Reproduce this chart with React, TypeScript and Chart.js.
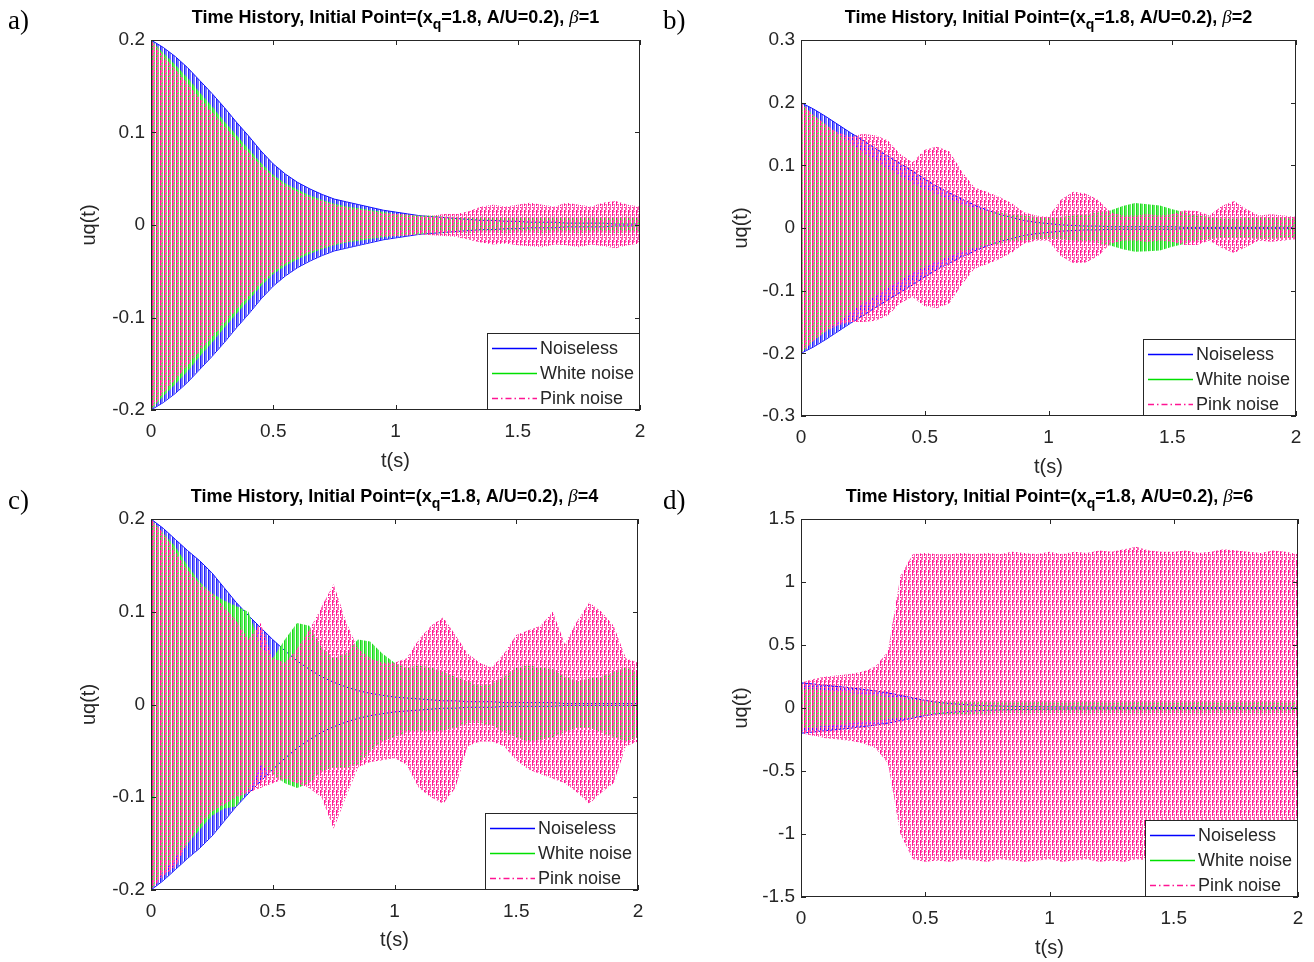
import React, { useEffect, useRef } from 'react';
import { Chart, registerables } from 'chart.js';

Chart.register(...registerables);

const W = 1314;
const H = 962;

// ---------- data (envelopes of the oscillating responses) ----------
const T = [0, 0.05, 0.1, 0.15, 0.2, 0.25, 0.3, 0.35, 0.4, 0.45, 0.5, 0.55, 0.6, 0.65, 0.7, 0.75, 0.8, 0.85, 0.9, 0.95, 1, 1.05, 1.1, 1.15, 1.2, 1.25, 1.3, 1.35, 1.4, 1.45, 1.5, 1.55, 1.6, 1.65, 1.7, 1.75, 1.8, 1.85, 1.9, 1.95, 2];

// a) beta = 1
const A_BLUE_HI = [0.200,0.192,0.182,0.170,0.156,0.142,0.127,0.111,0.096,0.080,0.066,0.055,0.046,0.039,0.033,0.028,0.025,0.022,0.019,0.016,0.014,0.012,0.010,0.009,0.008,0.007,0.006,0.005,0.005,0.004,0.004,0.003,0.003,0.003,0.002,0.002,0.002,0.002,0.001,0.001,0.001];
const A_BLUE_LO = [-0.200,-0.192,-0.182,-0.170,-0.156,-0.142,-0.127,-0.111,-0.096,-0.080,-0.066,-0.055,-0.046,-0.039,-0.033,-0.028,-0.025,-0.022,-0.019,-0.016,-0.014,-0.012,-0.010,-0.009,-0.008,-0.007,-0.006,-0.005,-0.005,-0.004,-0.004,-0.003,-0.003,-0.003,-0.002,-0.002,-0.002,-0.002,-0.001,-0.001,-0.001];
const A_GREEN_HI = [0.200,0.186,0.173,0.159,0.143,0.128,0.112,0.097,0.082,0.067,0.054,0.045,0.038,0.032,0.027,0.023,0.020,0.018,0.016,0.014,0.012,0.011,0.010,0.010,0.009,0.009,0.008,0.009,0.008,0.008,0.009,0.008,0.008,0.009,0.008,0.008,0.009,0.008,0.008,0.009,0.008];
const A_GREEN_LO = [-0.200,-0.185,-0.172,-0.158,-0.142,-0.127,-0.111,-0.096,-0.081,-0.066,-0.053,-0.044,-0.037,-0.031,-0.026,-0.022,-0.019,-0.017,-0.015,-0.013,-0.012,-0.011,-0.010,-0.009,-0.009,-0.008,-0.009,-0.008,-0.008,-0.009,-0.008,-0.008,-0.009,-0.008,-0.008,-0.009,-0.008,-0.008,-0.009,-0.008,-0.008];
const A_PINK_HI = [0.200,0.183,0.168,0.153,0.137,0.122,0.107,0.092,0.078,0.064,0.052,0.043,0.036,0.030,0.026,0.022,0.019,0.017,0.015,0.013,0.012,0.011,0.010,0.010,0.012,0.012,0.015,0.020,0.022,0.020,0.022,0.024,0.022,0.020,0.024,0.022,0.020,0.024,0.026,0.022,0.020];
const A_PINK_LO = [-0.200,-0.182,-0.167,-0.152,-0.136,-0.121,-0.106,-0.091,-0.077,-0.063,-0.051,-0.042,-0.035,-0.029,-0.025,-0.021,-0.018,-0.016,-0.014,-0.013,-0.012,-0.011,-0.010,-0.011,-0.012,-0.013,-0.016,-0.019,-0.021,-0.020,-0.022,-0.023,-0.024,-0.021,-0.022,-0.024,-0.021,-0.023,-0.025,-0.022,-0.020];

// b) beta = 2
const B_BLUE_HI = [0.200,0.190,0.178,0.165,0.152,0.140,0.127,0.115,0.103,0.091,0.078,0.066,0.056,0.046,0.037,0.029,0.022,0.017,0.012,0.009,0.007,0.005,0.004,0.003,0.003,0.002,0.002,0.002,0.002,0.002,0.002,0.001,0.001,0.001,0.001,0.001,0.001,0.001,0.001,0.001,0.001];
const B_BLUE_LO = [-0.200,-0.190,-0.178,-0.165,-0.152,-0.140,-0.127,-0.115,-0.103,-0.091,-0.078,-0.066,-0.056,-0.046,-0.037,-0.029,-0.022,-0.017,-0.012,-0.009,-0.007,-0.005,-0.004,-0.003,-0.003,-0.002,-0.002,-0.002,-0.002,-0.002,-0.002,-0.001,-0.001,-0.001,-0.001,-0.001,-0.001,-0.001,-0.001,-0.001,-0.001];
const B_GREEN_HI = [0.200,0.180,0.165,0.150,0.135,0.120,0.108,0.095,0.083,0.072,0.062,0.053,0.045,0.038,0.032,0.028,0.025,0.022,0.020,0.018,0.017,0.018,0.020,0.022,0.025,0.028,0.035,0.040,0.038,0.036,0.030,0.025,0.020,0.018,0.015,0.015,0.016,0.018,0.017,0.016,0.015];
const B_GREEN_LO = [-0.200,-0.180,-0.165,-0.150,-0.135,-0.120,-0.108,-0.095,-0.083,-0.072,-0.062,-0.053,-0.045,-0.038,-0.032,-0.028,-0.025,-0.022,-0.020,-0.018,-0.017,-0.018,-0.020,-0.022,-0.024,-0.028,-0.034,-0.038,-0.037,-0.036,-0.030,-0.025,-0.020,-0.018,-0.015,-0.015,-0.016,-0.017,-0.017,-0.016,-0.015];
const B_PINK_HI = [0.200,0.180,0.165,0.152,0.146,0.150,0.148,0.140,0.118,0.105,0.125,0.130,0.122,0.090,0.065,0.058,0.050,0.040,0.025,0.020,0.018,0.045,0.058,0.055,0.045,0.025,0.020,0.020,0.022,0.020,0.022,0.028,0.027,0.020,0.035,0.043,0.030,0.020,0.022,0.020,0.018];
const B_PINK_LO = [-0.200,-0.180,-0.165,-0.155,-0.150,-0.150,-0.148,-0.140,-0.120,-0.110,-0.125,-0.128,-0.120,-0.090,-0.065,-0.058,-0.050,-0.040,-0.025,-0.020,-0.020,-0.045,-0.056,-0.055,-0.045,-0.025,-0.020,-0.020,-0.022,-0.020,-0.022,-0.027,-0.027,-0.020,-0.032,-0.040,-0.030,-0.020,-0.022,-0.020,-0.018];

// c) beta = 4
const C_BLUE_HI = [0.200,0.190,0.178,0.166,0.155,0.142,0.126,0.110,0.096,0.083,0.070,0.058,0.047,0.038,0.030,0.024,0.019,0.015,0.012,0.010,0.008,0.007,0.006,0.005,0.004,0.004,0.003,0.003,0.003,0.002,0.002,0.002,0.002,0.002,0.001,0.001,0.001,0.001,0.001,0.001,0.001];
const C_BLUE_LO = [-0.200,-0.190,-0.178,-0.166,-0.155,-0.142,-0.126,-0.110,-0.096,-0.083,-0.070,-0.058,-0.047,-0.038,-0.030,-0.024,-0.019,-0.015,-0.012,-0.010,-0.008,-0.007,-0.006,-0.005,-0.004,-0.004,-0.003,-0.003,-0.003,-0.002,-0.002,-0.002,-0.002,-0.002,-0.001,-0.001,-0.001,-0.001,-0.001,-0.001,-0.001];
const C_GREEN_HI = [0.200,0.185,0.170,0.150,0.132,0.120,0.112,0.106,0.100,0.062,0.050,0.070,0.088,0.085,0.062,0.050,0.055,0.070,0.068,0.055,0.045,0.040,0.042,0.040,0.035,0.030,0.025,0.020,0.022,0.030,0.040,0.042,0.040,0.038,0.030,0.025,0.028,0.030,0.035,0.040,0.035];
const C_GREEN_LO = [-0.200,-0.180,-0.165,-0.150,-0.135,-0.120,-0.112,-0.110,-0.092,-0.065,-0.075,-0.085,-0.090,-0.085,-0.072,-0.068,-0.068,-0.065,-0.050,-0.040,-0.035,-0.030,-0.028,-0.030,-0.028,-0.025,-0.020,-0.020,-0.022,-0.030,-0.035,-0.040,-0.038,-0.035,-0.030,-0.025,-0.025,-0.030,-0.035,-0.040,-0.035];
const C_PINK_HI = [0.200,0.185,0.165,0.145,0.130,0.120,0.105,0.090,0.070,0.088,0.050,0.045,0.060,0.080,0.105,0.130,0.090,0.060,0.050,0.045,0.045,0.050,0.070,0.085,0.094,0.075,0.055,0.045,0.040,0.055,0.075,0.080,0.085,0.100,0.065,0.090,0.110,0.100,0.085,0.050,0.045];
const C_PINK_LO = [-0.200,-0.185,-0.175,-0.150,-0.130,-0.115,-0.108,-0.100,-0.095,-0.090,-0.085,-0.080,-0.085,-0.090,-0.100,-0.134,-0.100,-0.068,-0.062,-0.060,-0.058,-0.065,-0.090,-0.100,-0.107,-0.090,-0.045,-0.040,-0.040,-0.045,-0.060,-0.070,-0.075,-0.080,-0.085,-0.095,-0.107,-0.095,-0.085,-0.045,-0.040];

// d) beta = 6
const D_BLUE_HI = [0.200,0.190,0.180,0.170,0.160,0.148,0.135,0.120,0.100,0.080,0.060,0.045,0.035,0.028,0.022,0.018,0.015,0.013,0.011,0.010,0.009,0.008,0.007,0.007,0.006,0.006,0.005,0.005,0.005,0.004,0.004,0.004,0.004,0.003,0.003,0.003,0.003,0.003,0.003,0.003,0.003];
const D_BLUE_LO = [-0.200,-0.190,-0.180,-0.170,-0.160,-0.148,-0.135,-0.120,-0.100,-0.080,-0.060,-0.045,-0.035,-0.028,-0.022,-0.018,-0.015,-0.013,-0.011,-0.010,-0.009,-0.008,-0.007,-0.007,-0.006,-0.006,-0.005,-0.005,-0.005,-0.004,-0.004,-0.004,-0.004,-0.003,-0.003,-0.003,-0.003,-0.003,-0.003,-0.003,-0.003];
const D_GREEN_HI = [0.150,0.150,0.140,0.130,0.120,0.110,0.100,0.090,0.080,0.070,0.060,0.055,0.050,0.050,0.048,0.048,0.045,0.046,0.045,0.048,0.045,0.044,0.046,0.048,0.045,0.044,0.046,0.048,0.045,0.046,0.044,0.045,0.048,0.046,0.044,0.045,0.046,0.048,0.045,0.044,0.045];
const D_GREEN_LO = [-0.150,-0.150,-0.140,-0.130,-0.120,-0.110,-0.100,-0.090,-0.080,-0.070,-0.060,-0.055,-0.050,-0.048,-0.045,-0.044,-0.040,-0.040,-0.041,-0.040,-0.040,-0.039,-0.040,-0.041,-0.040,-0.039,-0.040,-0.041,-0.040,-0.040,-0.039,-0.040,-0.041,-0.040,-0.039,-0.040,-0.040,-0.041,-0.040,-0.039,-0.040];
const D_PINK_HI = [0.200,0.230,0.250,0.260,0.270,0.290,0.330,0.450,1.050,1.220,1.230,1.220,1.220,1.230,1.220,1.230,1.220,1.240,1.230,1.220,1.240,1.220,1.240,1.230,1.250,1.240,1.260,1.280,1.250,1.240,1.240,1.250,1.230,1.240,1.260,1.250,1.240,1.230,1.250,1.240,1.220];
const D_PINK_LO = [-0.200,-0.220,-0.240,-0.250,-0.260,-0.280,-0.320,-0.440,-1.000,-1.200,-1.220,-1.210,-1.220,-1.200,-1.210,-1.220,-1.200,-1.210,-1.220,-1.210,-1.200,-1.220,-1.210,-1.200,-1.220,-1.210,-1.220,-1.200,-1.210,-1.220,-1.210,-1.200,-1.220,-1.210,-1.220,-1.200,-1.210,-1.220,-1.210,-1.200,-1.210];

// ticks / labels
const X_TICKS = ['0', '0.5', '1', '1.5', '2'];
const Y_TICKS_AC = ['-0.2', '-0.1', '0', '0.1', '0.2'];
const Y_TICKS_B = ['-0.3', '-0.2', '-0.1', '0', '0.1', '0.2', '0.3'];
const Y_TICKS_D = ['-1.5', '-1', '-0.5', '0', '0.5', '1', '1.5'];
const SERIES_NAMES = ['Noiseless', 'White noise', 'Pink noise'];
const BETAS = ['1', '2', '4', '6'];
const PANEL_LABELS = ['a)', 'b)', 'c)', 'd)'];
const X_TITLE = 't(s)';
const Y_TITLE = 'uq(t)';
const TITLE_A = 'Time History, Initial Point=(x';
const TITLE_SUB = 'q';
const TITLE_B = '=1.8, A/U=0.2), ';
const TITLE_BETA = 'β';

// ---------- style ----------
const FONT = "'Liberation Sans', Arial, Helvetica, sans-serif";
const SERIF = "'Liberation Serif', 'Times New Roman', serif";
const TXT = '#262626';
const TICK_SIZE = 19;
const AXIS_TITLE_SIZE = 20;
const TITLE_SIZE = 18;
const LEGEND_SIZE = 18;
const TL = 5;

const PANELS = [
  { label: PANEL_LABELS[0], beta: BETAS[0], area: { l: 151, t: 40, r: 640, b: 410 }, yMin: -0.2, yMax: 0.2, yStep: 0.1, yTicks: Y_TICKS_AC, yTitleX: 89, xTitleY: 461, titleBase: 23, lab: { x: 8, y: 29 },
    blue: [A_BLUE_HI, A_BLUE_LO], green: [A_GREEN_HI, A_GREEN_LO], pink: [A_PINK_HI, A_PINK_LO] },
  { label: PANEL_LABELS[1], beta: BETAS[1], area: { l: 801, t: 40, r: 1296, b: 416 }, yMin: -0.3, yMax: 0.3, yStep: 0.1, yTicks: Y_TICKS_B, yTitleX: 741, xTitleY: 467, titleBase: 23, lab: { x: 663, y: 29 },
    blue: [B_BLUE_HI, B_BLUE_LO], green: [B_GREEN_HI, B_GREEN_LO], pink: [B_PINK_HI, B_PINK_LO] },
  { label: PANEL_LABELS[2], beta: BETAS[2], area: { l: 151, t: 519, r: 638, b: 890 }, yMin: -0.2, yMax: 0.2, yStep: 0.1, yTicks: Y_TICKS_AC, yTitleX: 89, xTitleY: 940, titleBase: 502, lab: { x: 8, y: 509 },
    blue: [C_BLUE_HI, C_BLUE_LO], green: [C_GREEN_HI, C_GREEN_LO], pink: [C_PINK_HI, C_PINK_LO] },
  { label: PANEL_LABELS[3], beta: BETAS[3], area: { l: 801, t: 519, r: 1298, b: 897 }, yMin: -1.5, yMax: 1.5, yStep: 0.5, yTicks: Y_TICKS_D, yTitleX: 741, xTitleY: 948, titleBase: 502, lab: { x: 663, y: 509 },
    blue: [D_BLUE_HI, D_BLUE_LO], green: [D_GREEN_HI, D_GREEN_LO], pink: [D_PINK_HI, D_PINK_LO] },
];

function makePattern(target: CanvasRenderingContext2D, w: number, h: number, paint: (g: CanvasRenderingContext2D) => void) {
  const c = document.createElement('canvas');
  c.width = w;
  c.height = h;
  const g = c.getContext('2d') as CanvasRenderingContext2D;
  paint(g);
  return target.createPattern(c, 'repeat');
}

function makePatterns(ctx: CanvasRenderingContext2D) {
  const blue = makePattern(ctx, 4, 1, (g) => {
    g.fillStyle = '#2424ff'; g.fillRect(0, 0, 1, 1);
    g.fillStyle = '#7474ff'; g.fillRect(1, 0, 2, 1);
  });
  const green = makePattern(ctx, 4, 1, (g) => {
    g.fillStyle = '#1ed41e'; g.fillRect(0, 0, 1, 1);
    g.fillStyle = '#5cf05c'; g.fillRect(1, 0, 2, 1);
  });
  const pink = makePattern(ctx, 4, 10, (g) => {
    for (let c = 0; c < 3; c++) {
      for (let r = 0; r < 10; r++) {
        const rr = (r + c * 3) % 10;
        if (rr <= 5 || rr === 7) {
          g.fillStyle = c === 0 ? '#ff1493' : '#ff5fb2';
          g.fillRect(c, r, 1, 1);
        }
      }
    }
  });
  return { blue, green, pink };
}

function decor(p: any) {
  return {
    id: 'decor',
    afterDraw(chart: any) {
      const ctx: CanvasRenderingContext2D = chart.ctx;
      const a = chart.chartArea;
      ctx.save();
      // frame
      ctx.strokeStyle = TXT;
      ctx.lineWidth = 1;
      ctx.strokeRect(a.left + 0.5, a.top + 0.5, a.right - a.left - 1, a.bottom - a.top - 1);
      // inner ticks
      const xs = chart.scales.x;
      const ys = chart.scales.y;
      ctx.beginPath();
      xs.ticks.forEach((tk: any) => {
        const px = Math.round(xs.getPixelForValue(tk.value)) + 0.5;
        ctx.moveTo(px, a.bottom); ctx.lineTo(px, a.bottom - TL);
        ctx.moveTo(px, a.top); ctx.lineTo(px, a.top + TL);
      });
      ys.ticks.forEach((tk: any) => {
        const py = Math.round(ys.getPixelForValue(tk.value)) + 0.5;
        ctx.moveTo(a.left, py); ctx.lineTo(a.left + TL, py);
        ctx.moveTo(a.right, py); ctx.lineTo(a.right - TL, py);
      });
      ctx.stroke();

      // legend
      const bw = 153, bh = 77;
      const bx = a.right - bw, by = a.bottom - bh;
      ctx.fillStyle = '#ffffff';
      ctx.fillRect(bx, by, bw, bh);
      ctx.strokeStyle = TXT;
      ctx.lineWidth = 1;
      ctx.strokeRect(bx + 0.5, by + 0.5, bw - 1, bh - 1);
      const cols = ['#0000ff', '#00e000', '#ff1493'];
      ctx.font = `${LEGEND_SIZE}px ${FONT}`;
      ctx.textBaseline = 'middle';
      ctx.textAlign = 'left';
      SERIES_NAMES.forEach((name, i) => {
        const y = by + 15 + i * 25;
        ctx.strokeStyle = cols[i];
        ctx.lineWidth = 1.5;
        ctx.setLineDash(i === 2 ? [6, 3, 1.5, 3] : []);
        ctx.beginPath();
        ctx.moveTo(bx + 5, y + 0.5);
        ctx.lineTo(bx + 50, y + 0.5);
        ctx.stroke();
        ctx.setLineDash([]);
        ctx.fillStyle = TXT;
        ctx.fillText(name, bx + 53, y + 1);
      });

      // title with subscript and italic beta
      const bold = `bold ${TITLE_SIZE}px ${FONT}`;
      const parts = [
        { s: TITLE_A, f: bold, dy: 0 },
        { s: TITLE_SUB, f: `bold ${Math.round(TITLE_SIZE * 0.75)}px ${FONT}`, dy: 6 },
        { s: TITLE_B, f: bold, dy: 0 },
        { s: TITLE_BETA, f: `italic ${TITLE_SIZE + 1}px ${SERIF}`, dy: 0 },
        { s: '=' + p.beta, f: bold, dy: 0 },
      ];
      let total = 0;
      parts.forEach((pt) => { ctx.font = pt.f; total += ctx.measureText(pt.s).width; });
      let x = (a.left + a.right) / 2 - total / 2;
      ctx.fillStyle = '#000000';
      ctx.textBaseline = 'alphabetic';
      parts.forEach((pt) => {
        ctx.font = pt.f;
        ctx.fillText(pt.s, x, p.titleBase + pt.dy);
        x += ctx.measureText(pt.s).width;
      });

      // panel label
      ctx.font = `27px ${SERIF}`;
      ctx.fillStyle = '#000000';
      ctx.fillText(p.label, p.lab.x, p.lab.y);
      ctx.restore();
    },
  };
}

function Panel({ p }: { p: any }) {
  const ref = useRef<HTMLCanvasElement>(null);
  useEffect(() => {
    const canvas = ref.current;
    if (!canvas) return;
    const ctx = canvas.getContext('2d') as CanvasRenderingContext2D;
    const pats = makePatterns(ctx);
    const band = (hi: number[], lo: number[], fillStyle: any, edge: string) => [
      { data: T.map((t, i) => ({ x: t, y: hi[i] })), fill: '+1', backgroundColor: fillStyle, borderColor: edge, borderWidth: 1, pointRadius: 0 },
      { data: T.map((t, i) => ({ x: t, y: lo[i] })), fill: false, borderColor: edge, borderWidth: 1, pointRadius: 0 },
    ];
    const none = 'rgba(0,0,0,0)';
    const datasets = [
      ...band(p.pink[0], p.pink[1], pats.pink, none),
      ...band(p.green[0], p.green[1], pats.green, none),
      ...band(p.blue[0], p.blue[1], pats.blue, '#1010ff'),
    ];
    const half = (AXIS_TITLE_SIZE * 1.2) / 2;
    const chart = new Chart(canvas, {
      type: 'line',
      data: { datasets },
      options: {
        responsive: false,
        animation: false,
        events: [],
        layout: { padding: { left: p.yTitleX - half, right: W - p.area.r, top: p.area.t, bottom: H - (p.xTitleY + half) } },
        plugins: { legend: { display: false }, tooltip: { enabled: false }, title: { display: false } },
        elements: { point: { radius: 0 }, line: { tension: 0 } },
        scales: {
          x: {
            type: 'linear', min: 0, max: 2,
            grid: { display: false, drawTicks: false, tickLength: 0 },
            border: { display: false },
            ticks: { stepSize: 0.5, maxRotation: 0, autoSkip: false, padding: 10, color: TXT, font: { family: FONT, size: TICK_SIZE }, callback: (_v: any, i: number) => X_TICKS[i] },
            title: { display: true, text: X_TITLE, color: TXT, font: { family: FONT, size: AXIS_TITLE_SIZE }, padding: 0 },
            afterFit: (s: any) => { s.height = p.xTitleY + half - p.area.b; },
          },
          y: {
            type: 'linear', min: p.yMin, max: p.yMax,
            grid: { display: false, drawTicks: false, tickLength: 0 },
            border: { display: false },
            ticks: { stepSize: p.yStep, autoSkip: false, padding: 6, color: TXT, font: { family: FONT, size: TICK_SIZE }, callback: (_v: any, i: number) => p.yTicks[i] },
            title: { display: true, text: Y_TITLE, color: TXT, font: { family: FONT, size: AXIS_TITLE_SIZE }, padding: 0 },
            afterFit: (s: any) => { s.width = p.area.l - (p.yTitleX - half); },
          },
        },
      } as any,
      plugins: [decor(p)],
    } as any);
    return () => chart.destroy();
  }, []);
  return <canvas ref={ref} width={W} height={H} style={{ position: 'absolute', left: 0, top: 0 }} />;
}

export default function App() {
  return (
    <div style={{ position: 'fixed', left: 0, top: 0, width: W, height: H, background: '#ffffff', overflow: 'hidden' }}>
      {PANELS.map((p) => (
        <Panel key={p.label} p={p} />
      ))}
    </div>
  );
}
